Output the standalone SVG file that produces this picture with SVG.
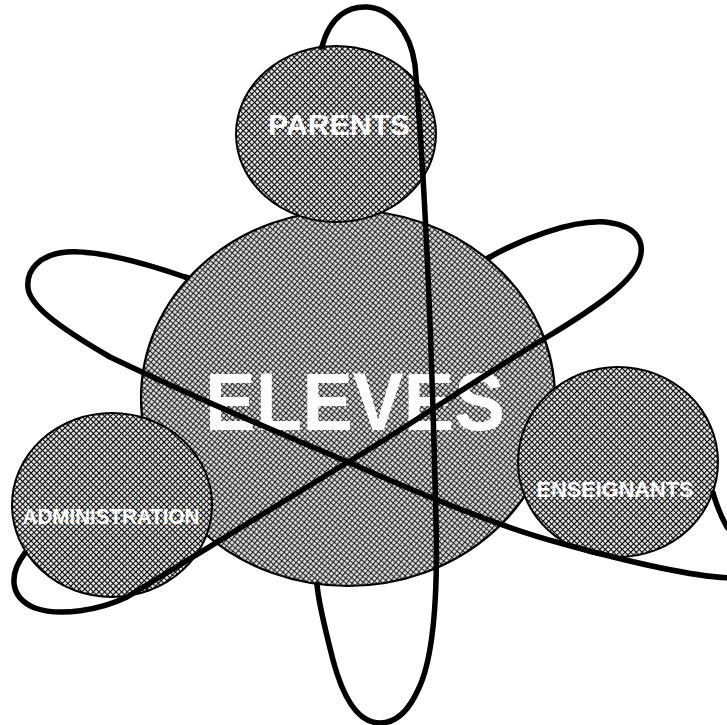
<svg xmlns="http://www.w3.org/2000/svg" width="727" height="725" viewBox="0 0 727 725">
  <defs>
    <pattern id="hatch" patternUnits="userSpaceOnUse" width="4" height="4" patternTransform="rotate(45)">
      <rect width="4" height="4" fill="#e2e2e2"/>
      <path d="M0,0.5 H4 M0.5,0 V4" stroke="#000" stroke-width="1" fill="none"/>
    </pattern>
    <pattern id="hatch2" patternUnits="userSpaceOnUse" width="4" height="4" patternTransform="rotate(40)">
      <rect width="4" height="4" fill="#d8d8d8"/>
      <path d="M0,0.5 H4 M0.5,0 V4" stroke="#111" stroke-width="0.9" fill="none"/>
    </pattern>
  </defs>
  <style>
    .node { fill: url(#hatch); stroke: #000; stroke-width: 2; }
    .main { fill: url(#hatch2); stroke: #000; stroke-width: 2.2; }
    .lbl { fill: #fff; font-family: "Liberation Sans", Arial, sans-serif; font-weight: bold; text-anchor: middle; }
    .orbit { fill: none; stroke: #000; stroke-width: 5.5; stroke-linecap: round; stroke-linejoin: round; }
  </style>
  <rect width="727" height="725" fill="#fff"/>

  <g id="orbits-back">
    <path class="orbit" d="M317,584 C315,400 316,200 322,47"/>
    <path class="orbit" d="M713,493 C600,430 300,310 185,277"/>
    <path class="orbit" d="M25,553 C150,450 350,330 490,257"/>
  </g>

  <g id="node-eleves">
    <ellipse class="main" cx="348" cy="398" rx="207" ry="188"/>
    <text class="lbl" x="355" y="430" font-size="82" textLength="300" lengthAdjust="spacingAndGlyphs">ELEVES</text>
  </g>

  <g id="node-parents">
    <ellipse class="node" cx="336" cy="134" rx="100" ry="88"/>
    <text class="lbl" x="339" y="135" font-size="30" textLength="142" lengthAdjust="spacingAndGlyphs">PARENTS</text>
  </g>

  <g id="node-administration">
    <ellipse class="node" cx="112" cy="505" rx="100" ry="92"/>
    <text class="lbl" x="111" y="524" font-size="22" textLength="177" lengthAdjust="spacingAndGlyphs">ADMINISTRATION</text>
  </g>

  <g id="node-enseignants">
    <ellipse class="node" cx="618" cy="462" rx="100" ry="95"/>
    <text class="lbl" x="615" y="497" font-size="21.5" textLength="157" lengthAdjust="spacingAndGlyphs">ENSEIGNANTS</text>
  </g>

  <g id="orbits">
    <path class="orbit" d="M322,47 C330,15 350,6 367,7 C390,8 410,30 415,65 C425,180 432,350 436,520 C438,600 433,660 418,690 C408,712 395,723 380,723 C362,723 345,705 333,660 C324,625 318,600 317,584"/>
    <path class="orbit" d="M185,277 C150,265 100,250 67,252 C40,254 26,270 28,288 C30,305 55,325 110,357 C200,400 300,442 348,462 C420,494 500,527 560,543 C640,565 700,578 735,578 C752,575 748,548 727,527 C720,515 716,503 713,493"/>
    <path class="orbit" d="M490,257 C520,240 570,220 605,222 C635,225 645,240 640,258 C635,280 600,305 547,337 C470,383 400,432 348,462 C290,497 200,553 127,597 C100,610 60,617 35,608 C10,598 8,575 25,553"/>
  </g>
</svg>
